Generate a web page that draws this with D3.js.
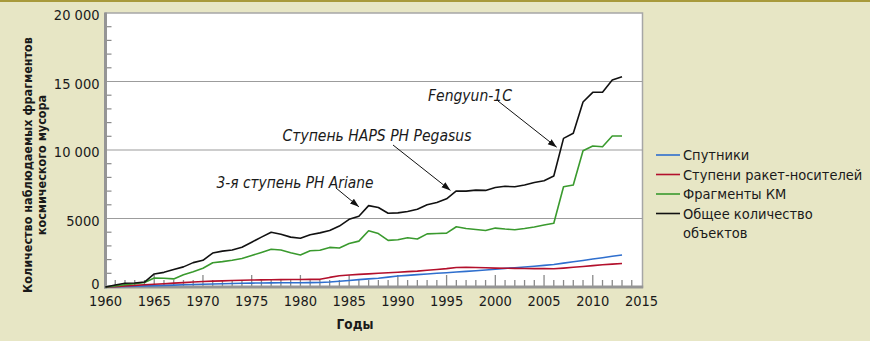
<!DOCTYPE html>
<html><head><meta charset="utf-8">
<script src="https://cdnjs.cloudflare.com/ajax/libs/d3/7.8.5/d3.min.js"></script>
<style>
html,body{margin:0;padding:0;background:#e7e6c5;}
svg{display:block;}
text{font-family:"DejaVu Sans Condensed","DejaVu Sans",sans-serif;fill:#1a1a1a;}
</style></head><body>
<svg id="c" width="870" height="341"></svg>
<script>
const years = d3.range(1960, 2014);
const satellites = [0,20,40,60,80,100,120,140,160,180,200,220,240,255,270,285,295,300,305,310,315,320,330,360,420,480,540,590,640,720,800,850,900,950,1000,1040,1090,1140,1190,1240,1300,1360,1410,1460,1520,1580,1640,1740,1840,1940,2040,2140,2240,2330];
const rocketBodies = [0,30,80,120,160,200,240,280,320,360,400,430,450,470,490,510,520,530,540,545,550,555,560,700,820,880,920,960,1000,1040,1080,1120,1160,1220,1280,1340,1420,1440,1420,1400,1380,1370,1360,1350,1340,1340,1330,1380,1440,1500,1560,1620,1670,1720];
const fragments = [0,80,160,240,330,650,640,590,900,1120,1370,1770,1850,1950,2080,2300,2520,2750,2700,2500,2340,2650,2680,2890,2850,3170,3350,4110,3900,3400,3450,3600,3500,3880,3900,3930,4400,4270,4200,4120,4300,4230,4180,4270,4380,4520,4650,7320,7450,9950,10290,10240,11020,11020];
const total = [0,146,270,290,360,950,1070,1280,1470,1780,1950,2480,2620,2700,2900,3270,3640,4000,3850,3640,3555,3820,3950,4130,4450,4940,5170,5940,5800,5380,5410,5510,5680,6010,6165,6440,7010,7000,7070,7050,7260,7350,7320,7450,7630,7760,8100,10850,11220,13500,14210,14210,15110,15350];

const seriesNames = ["Спутники","Ступени ракет-носителей","Фрагменты КМ","Общее количество объектов"];
const seriesColors = ["#2f6fce","#b3102c","#3a9a2e","#111111"];
const seriesData = [satellites, rocketBodies, fragments, total];

const yTickValues = [0,5000,10000,15000,20000];
const yTickLabels = ["0","5000","10 000","15 000","20 000"];
const xTickValues = [1960,1965,1970,1975,1980,1985,1990,1995,2000,2005,2010,2015];

const annotations = [
  {text:"Fengyun-1C", tx:470, ty:95, year:2006.3, value:10200, from:[498,101]},
  {text:"Ступень HAPS PH Pegasus", tx:377, ty:135, year:1995.4, value:7050, from:[393,145]},
  {text:"3-я ступень PH Ariane", tx:295, ty:182, year:1986.0, value:5850, from:[336,188]}
];

const svg = d3.select("#c");
// top border
svg.append("rect").attr("x",0).attr("y",0).attr("width",870).attr("height",2).attr("fill","#a89a3c");

const x = d3.scaleLinear().domain([1960,2015]).range([105.5,641.5]);
const y = d3.scaleLinear().domain([0,20000]).range([287,13]);

// plot area
svg.append("rect").attr("x",x(1960)).attr("y",y(20000)).attr("width",642.5-x(1960)).attr("height",y(0)-y(20000))
  .attr("fill","#fff").attr("stroke","#a6a6a6").attr("stroke-width",1.5);

// gridlines
svg.append("g").selectAll("line").data([5000,10000,15000]).join("line")
  .attr("x1",x(1960)).attr("x2",642.5).attr("y1",d=>y(d)).attr("y2",d=>y(d))
  .attr("stroke","#9c9c9c").attr("stroke-width",1.2);

// left minor ticks
svg.append("g").selectAll("line").data(d3.range(1000,20000,1000).filter(v=>v%5000)).join("line")
  .attr("x1",x(1960)).attr("x2",x(1960)+6).attr("y1",d=>y(d)).attr("y2",d=>y(d))
  .attr("stroke","#8a8a8a").attr("stroke-width",1.2);

// bottom ticks
svg.append("g").selectAll("line").data(d3.range(1961,2015)).join("line")
  .attr("x1",d=>x(d)).attr("x2",d=>x(d)).attr("y1",y(0)).attr("y2",d=>y(0)-(d%5===0?12:7))
  .attr("stroke","#8a8a8a").attr("stroke-width",1.3);

// axes lines
svg.append("line").attr("x1",x(1960)).attr("x2",x(1960)).attr("y1",y(20000)-0.5).attr("y2",y(0)+1.5)
  .attr("stroke","#959595").attr("stroke-width",3);
svg.append("line").attr("x1",x(1960)-1.5).attr("x2",643.2).attr("y1",y(0)).attr("y2",y(0))
  .attr("stroke","#959595").attr("stroke-width",3);

// y tick labels
svg.append("g").selectAll("text").data(yTickValues).join("text")
  .attr("x",99.5).attr("y",d=>d===0?y(d)-3.5:y(d)+2).attr("dy","0.36em").attr("text-anchor","end")
  .style("font-size","14.5px").text((d,i)=>yTickLabels[i]);
// x tick labels
svg.append("g").selectAll("text").data(xTickValues).join("text")
  .attr("x",d=>x(d)).attr("y",300.5).attr("dy","0.36em").attr("text-anchor","middle")
  .style("font-size","14.5px").text(d=>d);

// lines
const line = d3.line().x((d,i)=>x(years[i])).y(d=>y(d));
svg.append("g").selectAll("path").data(seriesData).join("path")
  .attr("d",d=>line(d)).attr("fill","none")
  .attr("stroke",(d,i)=>seriesColors[i]).attr("stroke-width",1.6).attr("stroke-linejoin","round");

// helper to fit text width
function fit(sel, target){
  const n = sel.node(); const w = n.getComputedTextLength();
  const fs = parseFloat(sel.style("font-size"));
  sel.style("font-size",(fs*target/w).toFixed(2)+"px");
}

// annotations
svg.append("defs").append("marker").attr("id","ah").attr("viewBox","0 0 10 10").attr("refX",10).attr("refY",5)
  .attr("markerWidth",9).attr("markerHeight",9).attr("markerUnits","userSpaceOnUse").attr("orient","auto")
  .append("path").attr("d","M0,1.5L10,5L0,8.5Z").attr("fill","#111");
const annWidths = [84,189,157];
annotations.forEach((a,i)=>{
  const t = svg.append("text").attr("x",a.tx).attr("y",a.ty).attr("dy","0.36em").attr("text-anchor","middle")
    .style("font-size","15px").style("font-style","italic").style("font-family","'DejaVu Sans Condensed','DejaVu Sans',sans-serif")
    .text(a.text);
  fit(t, annWidths[i]);
  svg.append("line").attr("x1",a.from[0]).attr("y1",a.from[1]).attr("x2",x(a.year)).attr("y2",y(a.value))
    .attr("stroke","#111").attr("stroke-width",1).attr("marker-end","url(#ah)");
});

// legend
const lg = svg.append("g");
const rowsY = [155,174.5,194,213.5];
seriesNames.forEach((n,i)=>{
  lg.append("line").attr("x1",656).attr("x2",680).attr("y1",rowsY[i]).attr("y2",rowsY[i])
    .attr("stroke",seriesColors[i]).attr("stroke-width",1.6);
});
const legendLines = [["Спутники"],["Ступени ракет-носителей"],["Фрагменты КМ"],["Общее количество","объектов"]];
legendLines.forEach((ls,i)=>{
  ls.forEach((s,j)=>{
    lg.append("text").attr("x",683).attr("y",rowsY[i]+j*19.5).attr("dy","0.36em").style("font-size","14.5px").text(s);
  });
});
// y axis title
const yt = svg.append("g").attr("transform","translate(34,165) rotate(-90)");
const y1 = yt.append("text").attr("x",0).attr("y",-7).attr("dy","0.36em").attr("text-anchor","middle")
  .style("font-weight","bold").style("font-size","13px").text("Количество наблюдаемых фрагментов");
fit(y1,256);
yt.append("text").attr("x",0).attr("y",8).attr("dy","0.36em").attr("text-anchor","middle")
  .style("font-weight","bold").style("font-size",y1.style("font-size")).text("космического мусора");
svg.append("text").attr("x",355).attr("y",324).attr("dy","0.36em").attr("text-anchor","middle")
  .style("font-weight","bold").style("font-size","13.5px").text("Годы");
</script></body></html>
